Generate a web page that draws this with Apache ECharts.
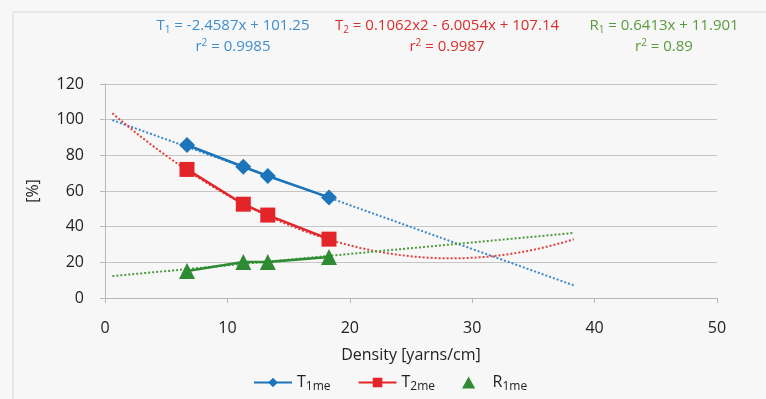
<!DOCTYPE html>
<html><head><meta charset="utf-8">
<script src="https://cdn.jsdelivr.net/npm/echarts@6/dist/echarts.min.js"></script>
<style>html,body{margin:0;padding:0;background:#f7f7f7;}#c{width:766px;height:399px;}</style>
</head><body><div id="c"></div>
<script>
// Data
var density = [6.7, 11.3, 13.3, 18.3];
var t1me = [85.8, 73.6, 68.4, 56.4];
var t2me = [72.1, 52.6, 46.5, 33.0];
var r1me = [15.2, 20.2, 20.2, 23.0];
// Trendline coefficients shown on the chart (highest power first)
var t1Coef = [-2.4587, 101.25];
var t2Coef = [0.1062, -6.0054, 107.14];
var r1Coef = [0.6413, 11.901];
var trendRange = [0.6, 38.3];
var xTicks = [0, 10, 20, 30, 40, 50];
var yTicks = [0, 20, 40, 60, 80, 100, 120];

function polyVal(c, x) { var v = 0; for (var i = 0; i < c.length; i++) v = v * x + c[i]; return v; }
function trend(c) {
  var pts = [];
  var n = 80;
  for (var i = 0; i <= n; i++) {
    var x = trendRange[0] + (trendRange[1] - trendRange[0]) * i / n;
    pts.push([x, polyVal(c, x)]);
  }
  return pts;
}
function pairs(xs, ys) { return xs.map(function (x, i) { return [x, ys[i]]; }); }

var FONT = '"Open Sans", "Noto Sans", sans-serif';
var BLUE = '#1c74bb', RED = '#e3252a', GREEN = '#2f8a34';
var chart = echarts.init(document.getElementById('c'));

function eq(cx, y1, color, l1, l2) {
  var rich = {
    n: { fontSize: 15, fill: color, fontFamily: FONT },
    sub: { fontSize: 10, fill: color, fontFamily: FONT, padding: [8, 0, 0, 0] },
    sup: { fontSize: 10, fill: color, fontFamily: FONT, padding: [0, 0, 8, 0] }
  };
  return [
    { type: 'text', x: cx, y: y1, style: { text: l1, rich: rich, align: 'center', verticalAlign: 'middle', fontSize: 15, fill: color, fontFamily: FONT } },
    { type: 'text', x: cx, y: y1 + 21, style: { text: l2, rich: rich, align: 'center', verticalAlign: 'middle', fontSize: 15, fill: color, fontFamily: FONT } }
  ];
}

var graphics = [
  { type: 'rect', shape: { x: 13, y: 12, width: 800, height: 420 }, style: { fill: 'none', stroke: '#d6d6d6', lineWidth: 1 }, z: -1 }
].concat(
  eq(233, 26, '#3f8ecb', '{n|T}{sub|1}{n| = -2.4587x + 101.25}', '{n|r}{sup|2}{n| = 0.9985}'),
  eq(447, 26, '#d8302d', '{n|T}{sub|2}{n| = 0.1062x2 - 6.0054x + 107.14}', '{n|r}{sup|2}{n| = 0.9987}'),
  eq(664, 26, '#5a9a3e', '{n|R}{sub|1}{n| = 0.6413x + 11.901}', '{n|r}{sup|2}{n| = 0.89}')
);

var legendRich = {
  a: { fontSize: 16, color: '#222', fontFamily: FONT },
  s: { fontSize: 12, color: '#222', fontFamily: FONT, padding: [9, 0, 0, 0] }
};

chart.setOption({
  backgroundColor: '#f7f7f7',
  animation: false,
  textStyle: { fontFamily: FONT },
  graphic: graphics,
  grid: { left: 105, right: 49, top: 84, bottom: 101 },
  legend: {
    bottom: 1, left: 248, itemWidth: 38, itemHeight: 12, itemGap: 27,
    symbolKeepAspect: true,
    textStyle: { rich: legendRich },
    formatter: function (n) { return '{a|' + n.charAt(0) + '}{s|' + n.slice(1) + '}'; },
    data: [
      { name: 'T1me' },
      { name: 'T2me' },
      { name: 'R1me', icon: 'path://M6,0L12,11L0,11Z', itemStyle: { color: GREEN } }
    ]
  },
  xAxis: {
    type: 'value', min: xTicks[0], max: xTicks[xTicks.length - 1], interval: 10,
    name: 'Density [yarns/cm]', nameLocation: 'middle', nameGap: 49,
    nameTextStyle: { fontSize: 16, color: '#222', fontFamily: FONT },
    axisLine: { show: true, lineStyle: { color: '#b8b8b8', width: 1 } },
    axisTick: { show: true, length: 5, lineStyle: { color: '#b8b8b8' } },
    axisLabel: { fontSize: 16, color: '#222', margin: 22, fontFamily: FONT },
    splitLine: { show: false }
  },
  yAxis: {
    type: 'value', min: yTicks[0], max: yTicks[yTicks.length - 1], interval: 20,
    name: '[%]', nameLocation: 'middle', nameGap: 64, nameRotate: 90,
    nameTextStyle: { fontSize: 16, color: '#222', fontFamily: FONT },
    axisLine: { show: true, lineStyle: { color: '#b8b8b8', width: 1 } },
    axisTick: { show: true, length: 5, lineStyle: { color: '#b8b8b8' } },
    axisLabel: { fontSize: 16, color: '#222', margin: 21, fontFamily: FONT },
    splitLine: { show: true, lineStyle: { color: '#c4c4c4', width: 1 } }
  },
  series: [
    { name: 't1trend', type: 'line', data: trend(t1Coef), showSymbol: false, symbol: 'none', smooth: false,
      lineStyle: { color: '#3f88c8', width: 2, type: [2, 2] }, z: 1, silent: true },
    { name: 't2trend', type: 'line', data: trend(t2Coef), showSymbol: false, symbol: 'none', smooth: false,
      lineStyle: { color: '#e0413c', width: 2, type: [2, 2] }, z: 1, silent: true },
    { name: 'r1trend', type: 'line', data: trend(r1Coef), showSymbol: false, symbol: 'none', smooth: false,
      lineStyle: { color: '#4d9a3f', width: 2, type: [2, 2] }, z: 1, silent: true },
    { name: 'T1me', type: 'line', data: pairs(density, t1me), symbol: 'diamond', symbolSize: 16,
      itemStyle: { color: BLUE }, lineStyle: { color: BLUE, width: 2.5 }, z: 3 },
    { name: 'T2me', type: 'line', data: pairs(density, t2me), symbol: 'rect', symbolSize: 15,
      itemStyle: { color: RED }, lineStyle: { color: RED, width: 2.5 }, z: 3 },
    { name: 'R1me', type: 'line', data: pairs(density, r1me), symbol: 'triangle', symbolSize: 16,
      itemStyle: { color: GREEN }, lineStyle: { color: GREEN, width: 2.5 }, z: 3 }
  ]
});
</script></body></html>
